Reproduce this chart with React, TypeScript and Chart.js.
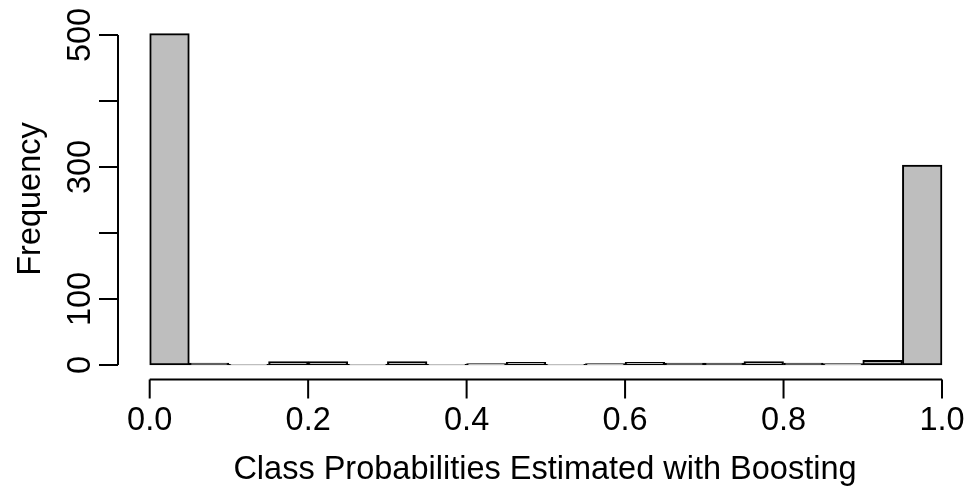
import React, { useEffect, useRef } from "react";
import { Chart, registerables } from "chart.js";

Chart.register(...registerables);

const binCenters = [0.025, 0.075, 0.125, 0.175, 0.225, 0.275, 0.325, 0.375, 0.425, 0.475, 0.525, 0.575, 0.625, 0.675, 0.725, 0.775, 0.825, 0.875, 0.925, 0.975];
const frequencies = [502, 3, 1, 5, 5, 1, 5, 1, 2, 4, 1, 2, 4, 3, 3, 5, 3, 2, 7, 303];
const xTickValues = [0, 0.2, 0.4, 0.6, 0.8, 1.0];
const xTickLabels = ["0.0", "0.2", "0.4", "0.6", "0.8", "1.0"];
const yTickValues = [0, 100, 200, 300, 400, 500];
const yTickLabels = ["0", "100", "", "300", "", "500"];
const xTitle = "Class Probabilities Estimated with Boosting";
const yTitle = "Frequency";

const FONT = "32.5px 'Liberation Sans', Arial, sans-serif";

const axesPlugin = {
  id: "rAxes",
  afterDraw(chart: any) {
    const ctx = chart.ctx as CanvasRenderingContext2D;
    const xs = chart.scales.x;
    const ys = chart.scales.y;
    const area = chart.chartArea;
    ctx.save();
    ctx.strokeStyle = "#000";
    ctx.fillStyle = "#000";
    ctx.lineWidth = 2;
    ctx.font = FONT;
    const tickLen = 19;
    // x axis
    const axY = ys.getPixelForValue(0) + 14.5;
    const x0 = xs.getPixelForValue(xTickValues[0]);
    const x1 = xs.getPixelForValue(xTickValues[xTickValues.length - 1]);
    ctx.beginPath();
    ctx.moveTo(x0, axY);
    ctx.lineTo(x1, axY);
    xTickValues.forEach((v) => {
      const px = xs.getPixelForValue(v);
      ctx.moveTo(px, axY);
      ctx.lineTo(px, axY + tickLen);
    });
    ctx.stroke();
    ctx.textAlign = "center";
    ctx.textBaseline = "alphabetic";
    xTickValues.forEach((v, i) => {
      ctx.fillText(xTickLabels[i], xs.getPixelForValue(v), 430);
    });
    ctx.fillText(xTitle, 545, 479);
    // y axis
    const axX = area.left;
    const y0 = ys.getPixelForValue(yTickValues[0]);
    const y1 = ys.getPixelForValue(yTickValues[yTickValues.length - 1]);
    ctx.beginPath();
    ctx.moveTo(axX, y0);
    ctx.lineTo(axX, y1);
    yTickValues.forEach((v) => {
      const py = ys.getPixelForValue(v);
      ctx.moveTo(axX, py);
      ctx.lineTo(axX - tickLen, py);
    });
    ctx.stroke();
    yTickValues.forEach((v, i) => {
      if (!yTickLabels[i]) return;
      const py = ys.getPixelForValue(v);
      ctx.save();
      ctx.translate(90, py);
      ctx.rotate(-Math.PI / 2);
      ctx.fillText(yTickLabels[i], 0, 0);
      ctx.restore();
    });
    ctx.save();
    ctx.translate(40, (area.top + axY) / 2);
    ctx.rotate(-Math.PI / 2);
    ctx.fillText(yTitle, 0, 0);
    ctx.restore();
    ctx.restore();
  },
};

export default function App() {
  const ref = useRef<HTMLCanvasElement>(null);
  useEffect(() => {
    if (!ref.current) return;
    const chart = new Chart(ref.current, {
      type: "bar",
      data: {
        datasets: [
          {
            data: binCenters.map((x, i) => ({ x, y: frequencies[i] })),
            backgroundColor: "#bebebe",
            borderColor: "#000",
            borderWidth: 2,
            borderSkipped: false,
            barPercentage: 1,
            categoryPercentage: 1,
            clip: false as any,
          },
        ],
      },
      options: {
        animation: false,
        responsive: false,
        maintainAspectRatio: false,
        layout: { padding: { left: 118, right: 26, top: 18.5, bottom: 124 } },
        plugins: { legend: { display: false }, tooltip: { enabled: false } },
        scales: {
          x: { type: "linear", min: -0.04, max: 1.0, display: false, offset: false },
          y: { type: "linear", min: 0, max: 525, display: false },
        },
      },
      plugins: [axesPlugin],
    });
    return () => chart.destroy();
  }, []);
  return (
    <div style={{ position: "fixed", left: 0, top: 0, width: 968, height: 489, background: "#fff" }}>
      <canvas ref={ref} width={968} height={489} style={{ width: 968, height: 489 }} />
    </div>
  );
}
